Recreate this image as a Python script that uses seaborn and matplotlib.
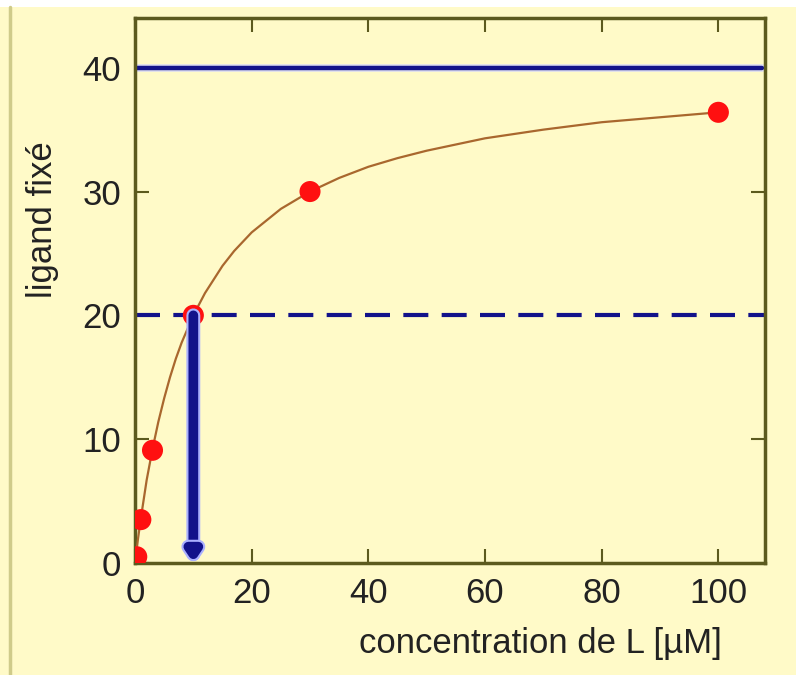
import matplotlib
matplotlib.use("Agg")
import matplotlib.pyplot as plt
import matplotlib.patheffects as pe
import seaborn as sns
import pandas as pd

# measured points (concentration of L in uM, bound ligand)
conc_pts = [0.3, 1.0, 3.0, 10.0, 30.0, 100.0]
bound_pts = [0.5, 3.5, 9.1, 20.0, 30.0, 36.4]

# smooth saturation curve
conc_curve = [0, 0.5, 1, 2, 3, 4, 5, 6, 7, 8, 10, 12, 15, 17, 20, 25, 30, 35, 40,
              45, 50, 60, 70, 80, 90, 100]
bound_curve = [0, 1.9, 3.6, 6.7, 9.2, 11.4, 13.3, 15.0, 16.5, 17.8, 20.0, 21.8,
               24.0, 25.2, 26.7, 28.6, 30.0, 31.1, 32.0, 32.7, 33.3, 34.3, 35.0,
               35.6, 36.0, 36.4]

bmax = 40   # saturation level
half = 20   # half saturation
kd = 10     # concentration at half saturation

x_ticks = [0, 20, 40, 60, 80, 100]
y_ticks = [0, 10, 20, 30, 40]

bg = "#fffac8"
frame = "#5c5a1e"
navy = "#12128a"

sns.set_theme(style="ticks")
plt.rcParams['font.family'] = ['Liberation Sans', 'DejaVu Sans']

fig = plt.figure(figsize=(7.96, 6.75), dpi=100, facecolor=bg)
ax = fig.add_axes([0.1696, 0.166, 0.7915, 0.807])
ax.set_facecolor(bg)

df_curve = pd.DataFrame({"L": conc_curve, "B": bound_curve})
df_pts = pd.DataFrame({"L": conc_pts, "B": bound_pts})

ax.axhline(bmax, xmin=0, xmax=0.995, color=navy, lw=3.2, zorder=2,
           path_effects=[pe.Stroke(linewidth=5.5, foreground="#dcdcf0"), pe.Normal()])
ax.axhline(half, color=navy, lw=3.0, dashes=(6, 3.2), zorder=2)

sns.lineplot(data=df_curve, x="L", y="B", ax=ax, color="#a9672e", lw=1.6, zorder=3)
sns.scatterplot(data=df_pts, x="L", y="B", ax=ax, color="#ff1010", s=230,
                edgecolor="none", zorder=4)

ax.annotate("", xy=(kd, 0), xytext=(kd, half),
            arrowprops=dict(arrowstyle="-|>,head_length=0.45,head_width=0.3",
                            color=navy, lw=7, shrinkA=0, shrinkB=0,
                            path_effects=[pe.Stroke(linewidth=10, foreground="#aab0ff"),
                                          pe.Normal()]),
            zorder=5)

ax.set_xlim(0, 108)
ax.set_ylim(0, 44)
ax.set_xticks(x_ticks)
ax.set_yticks(y_ticks)
ax.tick_params(direction="in", length=10, width=1.5, color=frame,
               top=True, right=True, labelsize=25, labelcolor="#222222", pad=10)

for s in ax.spines.values():
    s.set_color(frame)
    s.set_linewidth(2.5)

ax.set_xlabel("concentration de L [µM]", fontsize=25, color="#222222")
ax.xaxis.set_label_coords(0.644, -0.118)
ax.set_ylabel("ligand fixé", fontsize=25, color="#222222")
ax.yaxis.set_label_coords(-0.12, 0.63)

# thin frame line on the left of the picture and white strip on top
fig.add_artist(plt.Line2D([0.013, 0.013], [0, 0.99], color="#cfcb8a", lw=2.5))
fig.add_artist(plt.Rectangle((0, 0.99), 1, 0.01, color="white", lw=0))

fig.savefig("out.png", dpi=100, facecolor=bg)
